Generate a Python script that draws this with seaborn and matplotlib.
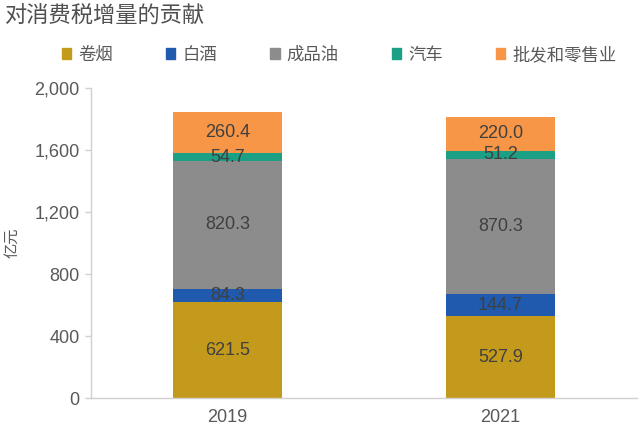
import numpy as np
import pandas as pd
import seaborn as sns
import matplotlib.pyplot as plt
from matplotlib.patches import Patch

# --- data ---
years = ["2019", "2021"]
categories = ["卷烟", "白酒", "成品油", "汽车", "批发和零售业"]
cigarettes = [621.5, 527.9]
liquor = [84.3, 144.7]
oil = [820.3, 870.3]
cars = [54.7, 51.2]
wholesale = [260.4, 220.0]
colors = ["#C49A1C", "#1F5AAE", "#8C8C8C", "#1BA086", "#F79646"]

sns.set_theme(style="white")
plt.rcParams['font.family'] = ['Noto Sans CJK SC', 'DejaVu Sans']
num_font = "Liberation Sans"

values = np.array([cigarettes, liquor, oil, cars, wholesale])
tops = values.cumsum(axis=0)

fig, ax = plt.subplots(figsize=(6.4, 4.32), dpi=100)
fig.subplots_adjust(left=0.142, right=0.995, top=0.797, bottom=0.078)

# stacked bars: draw cumulative heights from the top segment down
for i in range(len(categories) - 1, -1, -1):
    df = pd.DataFrame({"year": years, "value": tops[i]})
    sns.barplot(data=df, x="year", y="value", color=colors[i], width=0.4,
                saturation=1, linewidth=0, edgecolor="none", ax=ax)

# segment labels
for j in range(len(years)):
    for i in range(len(categories)):
        mid = tops[i, j] - values[i, j] / 2
        ax.text(j, mid, f"{values[i, j]:.1f}", ha="center", va="center",
                fontsize=13, color="#404040", family=num_font)

ax.set_ylim(0, 2000)
ax.set_yticks(range(0, 2001, 400))
ax.set_yticklabels([f"{v:,}" for v in range(0, 2001, 400)], family=num_font)
ax.set_xticks([0, 1])
ax.set_xticklabels(years, family=num_font)
ax.set_xlim(-0.5, 1.5)
ax.tick_params(axis="both", labelsize=13, colors="#595959")
ax.tick_params(axis="y", length=4, color="#D0D0D0", width=1, left=True, pad=4)
ax.tick_params(axis="x", length=0, pad=8)
ax.set_xlabel("")
ax.set_ylabel("亿元", fontsize=11, color="#595959", labelpad=10)
for s in ["top", "right"]:
    ax.spines[s].set_visible(False)
for s in ["left", "bottom"]:
    ax.spines[s].set_color("#D0D0D0")
    ax.spines[s].set_linewidth(1)

handles = [Patch(color=c, label=l) for c, l in zip(colors, categories)]
fig.legend(handles=handles, loc="center", bbox_to_anchor=(0.53, 0.873), ncol=5,
           frameon=False, fontsize=12.5, handlelength=0.55, handleheight=0.55,
           handletextpad=0.4, columnspacing=3.05, labelcolor="#595959")

fig.text(0.008, 0.962, "对消费税增量的贡献", fontsize=16, color="#505050",
         va="center", ha="left")

fig.savefig("out.png", dpi=100)
